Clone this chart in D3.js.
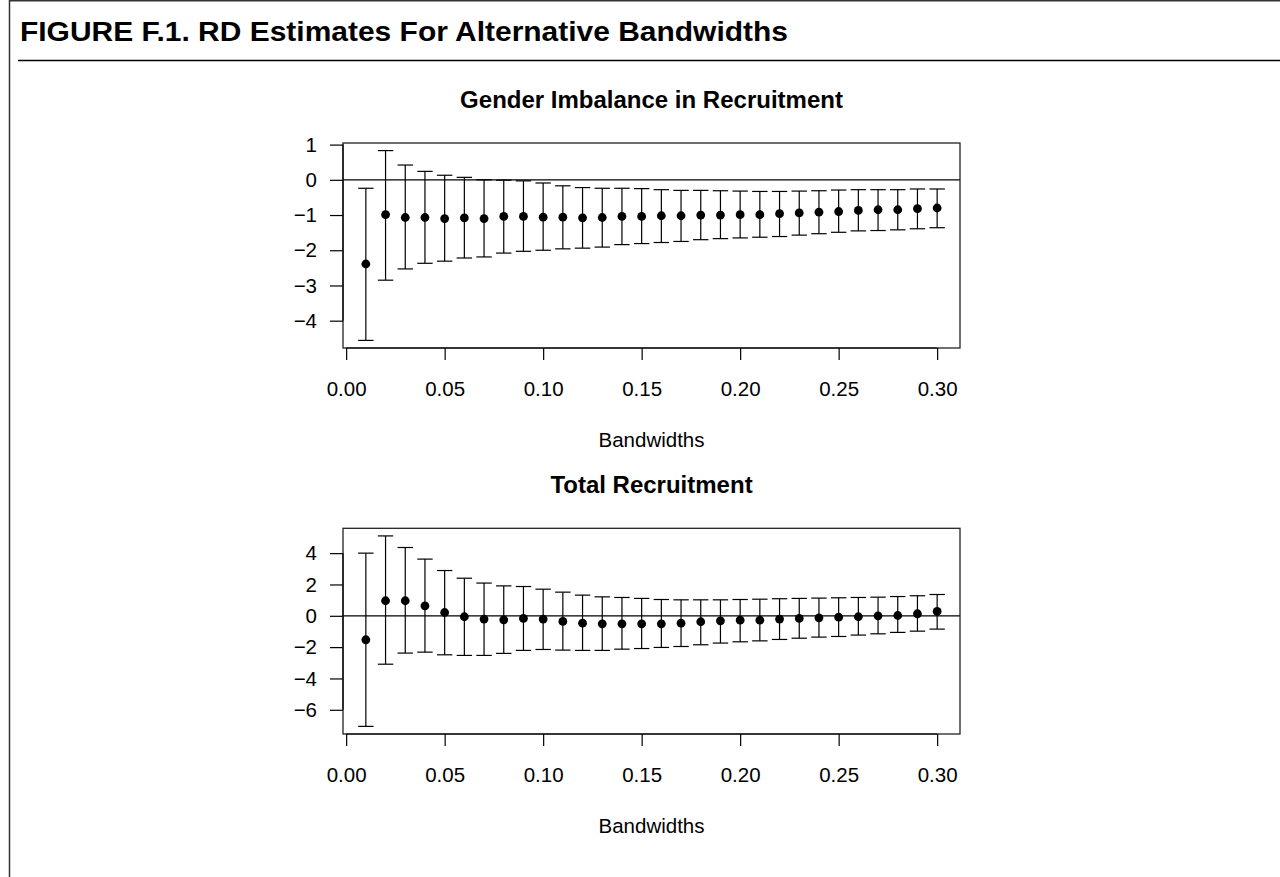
<!DOCTYPE html>
<html>
<head>
<meta charset="utf-8">
<script src="https://cdn.jsdelivr.net/npm/d3@7"></script>
<style>
  html, body { margin: 0; padding: 0; background: #fff; }
  svg { display: block; }
  text { font-family: "Liberation Sans", Arial, Helvetica, sans-serif; fill: #000; }
</style>
</head>
<body>
<svg id="chart" width="1280" height="877"></svg>
<script>
// ---------------- DATA ----------------
const bandwidths = [0.01,0.02,0.03,0.04,0.05,0.06,0.07,0.08,0.09,0.10,
                    0.11,0.12,0.13,0.14,0.15,0.16,0.17,0.18,0.19,0.20,
                    0.21,0.22,0.23,0.24,0.25,0.26,0.27,0.28,0.29,0.30];

// Panel 1: Gender Imbalance in Recruitment
const genderEst   = [-2.39,-0.99,-1.07,-1.07,-1.10,-1.08,-1.10,-1.04,-1.04,-1.06,
                     -1.06,-1.08,-1.07,-1.04,-1.04,-1.02,-1.02,-1.00,-1.00,-0.99,
                     -0.99,-0.96,-0.94,-0.92,-0.90,-0.87,-0.85,-0.85,-0.82,-0.80];
const genderUpper = [-0.24, 0.83, 0.42, 0.24, 0.13, 0.07, 0.00,-0.01,-0.03,-0.09,
                     -0.17,-0.22,-0.24,-0.24,-0.25,-0.28,-0.30,-0.30,-0.31,-0.32,
                     -0.33,-0.33,-0.32,-0.31,-0.29,-0.28,-0.28,-0.28,-0.26,-0.26];
const genderLower = [-4.56,-2.85,-2.53,-2.37,-2.31,-2.22,-2.19,-2.08,-2.03,-2.00,
                     -1.96,-1.94,-1.91,-1.84,-1.81,-1.78,-1.75,-1.70,-1.67,-1.65,
                     -1.63,-1.61,-1.57,-1.53,-1.49,-1.45,-1.44,-1.42,-1.39,-1.36];

// Panel 2: Total Recruitment
const totalEst    = [-1.53, 0.96, 0.96, 0.64, 0.21,-0.06,-0.21,-0.26,-0.17,-0.21,
                     -0.36,-0.47,-0.51,-0.51,-0.51,-0.51,-0.47,-0.38,-0.32,-0.28,
                     -0.28,-0.21,-0.17,-0.13,-0.09,-0.06, 0.00, 0.02, 0.13, 0.28];
const totalUpper  = [ 4.00, 5.10, 4.36, 3.62, 2.89, 2.40, 2.09, 1.91, 1.87, 1.70,
                      1.51, 1.32, 1.21, 1.17, 1.11, 1.04, 1.02, 1.02, 1.02, 1.04,
                      1.06, 1.09, 1.11, 1.13, 1.15, 1.17, 1.19, 1.23, 1.28, 1.36];
const totalLower  = [-7.06,-3.09,-2.38,-2.32,-2.49,-2.53,-2.53,-2.40,-2.21,-2.15,
                     -2.19,-2.21,-2.21,-2.13,-2.09,-2.02,-1.96,-1.85,-1.74,-1.66,
                     -1.60,-1.51,-1.43,-1.36,-1.32,-1.23,-1.15,-1.06,-0.98,-0.85];

// Tick values
const xTicks       = [0.00, 0.05, 0.10, 0.15, 0.20, 0.25, 0.30];
const genderYTicks = [1, 0, -1, -2, -3, -4];
const totalYTicks  = [4, 2, 0, -2, -4, -6];

// Text
const figureTitle = "FIGURE F.1. RD Estimates For Alternative Bandwidths";
const panelTitles = ["Gender Imbalance in Recruitment", "Total Recruitment"];
const xAxisLabel  = "Bandwidths";

// ---------------- DRAWING ----------------
const svg = d3.select("#chart");

// outer frame
svg.append("line").attr("x1", 9.5).attr("x2", 9.5).attr("y1", 0).attr("y2", 877)
  .attr("stroke", "#333").attr("stroke-width", 1.5);
svg.append("line").attr("x1", 9).attr("x2", 1280).attr("y1", 0.75).attr("y2", 0.75)
  .attr("stroke", "#333").attr("stroke-width", 1.5);
// rule under title
svg.append("line").attr("x1", 18).attr("x2", 1280).attr("y1", 60.5).attr("y2", 60.5)
  .attr("stroke", "#000").attr("stroke-width", 1.5);

svg.append("text")
  .attr("x", 20).attr("y", 40.5)
  .attr("font-size", 27).attr("font-weight", "bold")
  .attr("textLength", 768).attr("lengthAdjust", "spacingAndGlyphs")
  .text(figureTitle);

function extent4(lo, hi) {
  const r = hi - lo;
  return [lo - 0.04 * r, hi + 0.04 * r];
}

const xDom = extent4(d3.min(bandwidths), d3.max(bandwidths));

function panel(opts) {
  const { top, bottom, left, right, est, upper, lower, yTicks, title } = opts;
  const g = svg.append("g");

  const x = d3.scaleLinear().domain(xDom).range([left, right]);
  const y = d3.scaleLinear().domain(extent4(d3.min(lower), d3.max(upper))).range([bottom, top]);

  // zero reference line
  g.append("line")
    .attr("x1", left).attr("x2", right)
    .attr("y1", y(0)).attr("y2", y(0))
    .attr("stroke", "#000").attr("stroke-width", 1.2);

  // error bars
  const data = bandwidths.map((b, i) => ({ b, e: est[i], u: upper[i], l: lower[i] }));
  const capW = 7.7;
  const bars = g.append("g").attr("stroke", "#000").attr("stroke-width", 1.2).attr("fill", "none");
  bars.selectAll("line.v").data(data).join("line")
    .attr("x1", d => x(d.b)).attr("x2", d => x(d.b))
    .attr("y1", d => y(d.l)).attr("y2", d => y(d.u));
  bars.selectAll("line.cu").data(data).join("line").attr("class", "cu")
    .attr("x1", d => x(d.b) - capW).attr("x2", d => x(d.b) + capW)
    .attr("y1", d => y(d.u)).attr("y2", d => y(d.u));
  bars.selectAll("line.cl").data(data).join("line").attr("class", "cl")
    .attr("x1", d => x(d.b) - capW).attr("x2", d => x(d.b) + capW)
    .attr("y1", d => y(d.l)).attr("y2", d => y(d.l));

  // points
  g.append("g").selectAll("circle").data(data).join("circle")
    .attr("cx", d => x(d.b)).attr("cy", d => y(d.e)).attr("r", 4.4)
    .attr("fill", "#000");

  // box
  g.append("rect")
    .attr("x", left).attr("y", top)
    .attr("width", right - left).attr("height", bottom - top)
    .attr("fill", "none").attr("stroke", "#222").attr("stroke-width", 1.3);

  // x axis
  const xa = g.append("g").attr("transform", `translate(0,${bottom})`)
    .call(d3.axisBottom(x).tickValues(xTicks).tickSize(12).tickPadding(0)
      .tickFormat(d3.format(".2f")));
  xa.select(".domain").remove();
  xa.selectAll(".tick line").attr("stroke", "#000").attr("stroke-width", 1.2);
  xa.selectAll(".tick text").attr("font-size", 20.5).attr("dy", null)
    .attr("y", 47.7).attr("font-family", "Liberation Sans, Arial, sans-serif");
  g.append("line")
    .attr("x1", x(xTicks[0])).attr("x2", x(xTicks[xTicks.length - 1]))
    .attr("y1", bottom).attr("y2", bottom)
    .attr("stroke", "#000").attr("stroke-width", 1.2);

  // y axis
  const ya = g.append("g").attr("transform", `translate(${left},0)`)
    .call(d3.axisLeft(y).tickValues(yTicks).tickSize(13).tickPadding(13)
      .tickFormat(d => d < 0 ? "\u2212" + Math.abs(d) : String(d)));
  ya.select(".domain").remove();
  ya.selectAll(".tick line").attr("stroke", "#000").attr("stroke-width", 1.2);
  ya.selectAll(".tick text").attr("font-size", 20.5)
    .attr("font-family", "Liberation Sans, Arial, sans-serif");
  g.append("line")
    .attr("x1", left).attr("x2", left)
    .attr("y1", y(yTicks[0])).attr("y2", y(yTicks[yTicks.length - 1]))
    .attr("stroke", "#000").attr("stroke-width", 1.2);

  // title
  g.append("text")
    .attr("x", (left + right) / 2).attr("y", top - 35)
    .attr("text-anchor", "middle").attr("font-size", 24).attr("font-weight", "bold")
    .text(title);

  // x label
  g.append("text")
    .attr("x", (left + right) / 2).attr("y", bottom + 99.3)
    .attr("text-anchor", "middle").attr("font-size", 20.5)
    .text(xAxisLabel);
}

panel({ top: 143, bottom: 348, left: 343, right: 960,
        est: genderEst, upper: genderUpper, lower: genderLower,
        yTicks: genderYTicks, title: panelTitles[0] });

panel({ top: 528.3, bottom: 734, left: 343, right: 960,
        est: totalEst, upper: totalUpper, lower: totalLower,
        yTicks: totalYTicks, title: panelTitles[1] });
</script>
</body>
</html>
